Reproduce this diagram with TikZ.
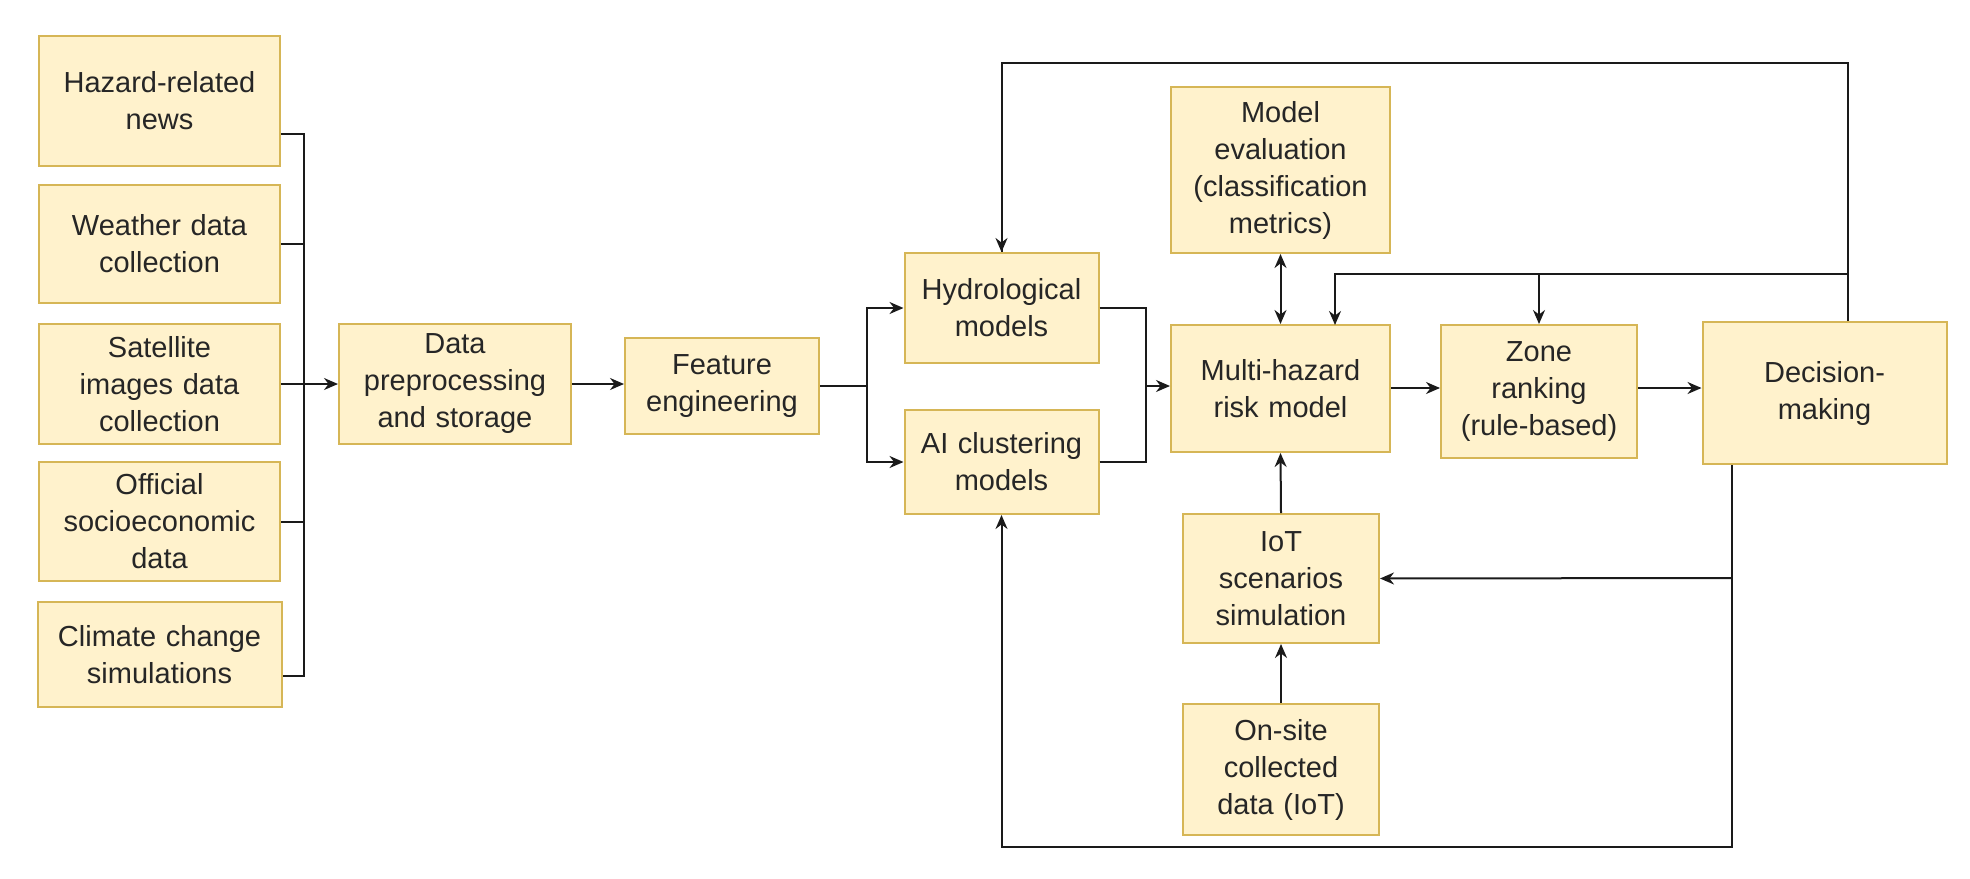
\documentclass[tikz,border=0pt]{standalone}
\usepackage{fontspec}
\setmainfont{Liberation Sans}
\usetikzlibrary{arrows.meta}
\definecolor{bfill}{HTML}{FFF2CC}
\definecolor{bdraw}{HTML}{D6B656}
\definecolor{ln}{HTML}{1A1A1A}
\begin{document}
\begin{tikzpicture}[x=1pt,y=-1pt,
 box/.style={draw=bdraw,fill=bfill,line width=2pt,align=center,inner sep=2pt,
   font=\fontsize{29}{37}\selectfont,text=black!85},
 ln/.style={draw=ln,line width=2pt},
 ar/.style={ln,-{Stealth[length=14pt,width=12pt]}},
 dar/.style={ln,{Stealth[length=14pt,width=12pt]}-{Stealth[length=14pt,width=12pt]}}]
\useasboundingbox (0,0) rectangle (1970,878);
\newcommand\bx[7]{\node[box,minimum width=#4,minimum height=#5,text width=#6] (#1) at (#2,#3) {#7};}
\bx{hz}{159.5}{101}{241}{130}{235}{Hazard-related\\news}
\bx{we}{159.5}{244}{241}{118}{235}{Weather data\\collection}
\bx{sa}{159.5}{384}{241}{120}{235}{Satellite\\images data\\collection}
\bx{of}{159.5}{521.5}{241}{119}{235}{Official\\socioeconomic\\data}
\bx{cl}{159.5}{654.5}{241}{105}{240}{Climate change\\simulations}
\bx{da}{455}{384}{230}{120}{228}{Data\\preprocessing\\and storage}
\bx{fe}{722}{386}{194}{96}{190}{Feature\\engineering}
\bx{hy}{1001.5}{308}{193}{110}{190}{Hydrological\\models}
\bx{ai}{1001.5}{462}{193}{104}{190}{AI clustering\\models}
\bx{me}{1280.5}{170}{217}{166}{215}{Model\\evaluation\\(classification\\metrics)}
\bx{mu}{1280.5}{388.5}{217}{127}{215}{Multi-hazard\\risk model}
\bx{zo}{1539}{391.5}{194}{133}{192}{Zone\\ranking\\(rule-based)}
\bx{de}{1824.5}{393}{243}{142}{240}{Decision-\\making}
\bx{io}{1281}{578.5}{194}{129}{192}{IoT\\scenarios\\simulation}
\bx{on}{1281}{769.5}{194}{131}{192}{On-site\\collected\\data (IoT)}
\coordinate (bus) at (304,0);
\coordinate (sp) at (867,386);
\coordinate (mg) at (1146,386);
\coordinate (t1) at (1848,63);
\coordinate (t2) at (1848,274);
\coordinate (b1) at (1732,847);
\coordinate (b2) at (1732,578);
\draw[ln] (hz.east|-0,134) -- (bus|-0,134) -- (bus|-0,676) -- (cl.east|-0,676);
\draw[ln] (we.east) -- (we.east-|bus);
\draw[ln] (of.east) -- (of.east-|bus);
\draw[ar] (sa.east) -- (da.west);
\draw[ar] (da.east) -- (fe.west|-da.east);
\draw[ln] (fe.east) -- (sp);
\draw[ar] (sp) |- (hy.west);
\draw[ar] (sp) |- (ai.west);
\draw[ln] (hy.east) -| (mg);
\draw[ln] (ai.east) -| (mg);
\draw[ar] (mg) -- (mu.west|-mg);
\draw[dar] (me.south) -- (mu.north);
\draw[ar] (mu.east|-0,388) -- (zo.west|-0,388);
\draw[ar] (zo.east|-0,388) -- (de.west|-0,388);
\draw[ln] (de.north-|t1) -- (t1) -| (hy.north) ;
\draw[ar] (1001.5,63) -- (hy.north);
\draw[ar] (t2) -| (1335,325);
\draw[ar] (1539,274) -- (zo.north);
\draw[ln] (de.south-|b1) -- (b1) -| (1001.5,540);
\draw[ar] (1001.5,847) -- (ai.south);
\draw[ar] (b2) -- (io.east);
\draw[ar] (io.north) -- (mu.south);
\draw[ar] (on.north) -- (io.south);
\end{tikzpicture}
\end{document}
